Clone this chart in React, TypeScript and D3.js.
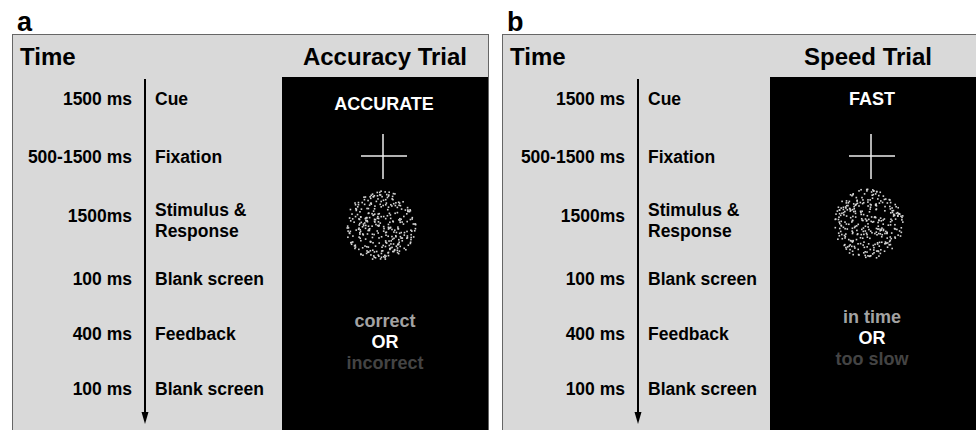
import React from "react";
import * as d3 from "d3";

// ---- data ----
const durations = ["1500 ms", "500-1500 ms", "1500ms", "100 ms", "400 ms", "100 ms"];
const events = [["Cue"], ["Fixation"], ["Stimulus &", "Response"], ["Blank screen"], ["Feedback"], ["Blank screen"]];
const panelLetters = ["a", "b"];
const trialTitles = ["Accuracy Trial", "Speed Trial"];
const cueWords = ["ACCURATE", "FAST"];
const feedbackWords = [
  ["correct", "OR", "incorrect"],
  ["in time", "OR", "too slow"],
];

// ---- layout ----
const W = 976;
const H = 430;
const FONT = "'Liberation Sans', Arial, Helvetica, sans-serif";
const rowBaselines = [105, 163, 222, 285, 340, 395];
const panels = [
  { x0: 12, x1: 488, axisX: 145, blackX: 282, blackX1: 488, center: 384, titleX: 385, seed: 0.137 },
  { x0: 502, x1: 992, axisX: 638, blackX: 770, blackX1: 976, center: 872, titleX: 868, seed: 0.713 },
];
const feedbackColors = ["#a3a3a3", "#ffffff", "#444444"];

function makeDots(seed: number, n: number) {
  const rnd = d3.randomLcg(seed);
  const pts: { a: number; r: number }[] = [];
  for (let i = 0; i < n; i++) {
    pts.push({ a: rnd() * Math.PI * 2, r: Math.sqrt(rnd()) });
  }
  return pts;
}

function Panel({ idx }: { idx: number }) {
  const p = panels[idx];
  const dots = makeDots(p.seed, 330);
  const rScale = d3.scaleLinear().domain([0, 1]).range([0, 35]);
  const discCy = idx === 0 ? 225 : 223;
  const crossCy = 156;
  return (
    <g fontFamily={FONT} fontWeight="bold">
      <text x={p.x0 + 5} y={31} fontSize={27} fill="#000">
        {panelLetters[idx]}
      </text>
      <rect x={p.x0 + 0.5} y={34.5} width={p.x1 - p.x0} height={H} fill="#d9d9d9" stroke="#666" strokeWidth={1} />
      <text x={p.x0 + 8} y={65} fontSize={24} fill="#000">
        Time
      </text>
      <text x={p.titleX} y={65} fontSize={24} textAnchor="middle" fill="#000">
        {trialTitles[idx]}
      </text>
      {/* time axis */}
      <line x1={p.axisX} x2={p.axisX} y1={79} y2={413} stroke="#000" strokeWidth={2} />
      <path d={`M${p.axisX - 3.5},${412} L${p.axisX + 3.5},${412} L${p.axisX},${424} Z`} fill="#000" />
      {durations.map((d, i) => (
        <text key={"d" + i} x={p.axisX - 13} y={rowBaselines[i]} fontSize={17.5} textAnchor="end" fill="#000">
          {d}
        </text>
      ))}
      {events.map((ev, i) =>
        ev.map((line, j) => (
          <text
            key={"e" + i + j}
            x={p.axisX + 10}
            y={ev.length > 1 ? rowBaselines[i] - 6 + j * 21 : rowBaselines[i]}
            fontSize={17.5}
            fill="#000"
          >
            {line}
          </text>
        ))
      )}
      {/* black stimulus panel */}
      <rect x={p.blackX} y={77} width={p.blackX1 - p.blackX} height={H - 77} fill="#000" />
      <text x={p.center} y={idx === 0 ? 110 : 105} fontSize={18} textAnchor="middle" fill="#fff">
        {cueWords[idx]}
      </text>
      <line x1={p.center - 23} x2={p.center + 23} y1={crossCy} y2={crossCy} stroke="#eee" strokeWidth={1.5} />
      <line x1={p.center - 1} x2={p.center - 1} y1={crossCy - 22} y2={crossCy + 23} stroke="#eee" strokeWidth={1.5} />
      {dots.map((d, i) => (
        <rect
          key={"p" + i}
          x={p.center - 4 + Math.cos(d.a) * rScale(d.r)}
          y={discCy + Math.sin(d.a) * rScale(d.r)}
          width={1.6}
          height={1.6}
          fill="#d6d6d6"
        />
      ))}
      {feedbackWords[idx].map((w, i) => (
        <text
          key={"f" + i}
          x={p.center + (idx === 0 ? 1 : 0)}
          y={(idx === 0 ? 327 : 323) + i * 21}
          fontSize={18}
          textAnchor="middle"
          fill={feedbackColors[i]}
        >
          {w}
        </text>
      ))}
    </g>
  );
}

export default function App() {
  return (
    <svg
      width={W}
      height={H}
      viewBox={`0 0 ${W} ${H}`}
      style={{ position: "absolute", left: 0, top: 0, background: "#fff" }}
    >
      <rect x={0} y={0} width={W} height={H} fill="#fff" />
      <Panel idx={0} />
      <Panel idx={1} />
    </svg>
  );
}
